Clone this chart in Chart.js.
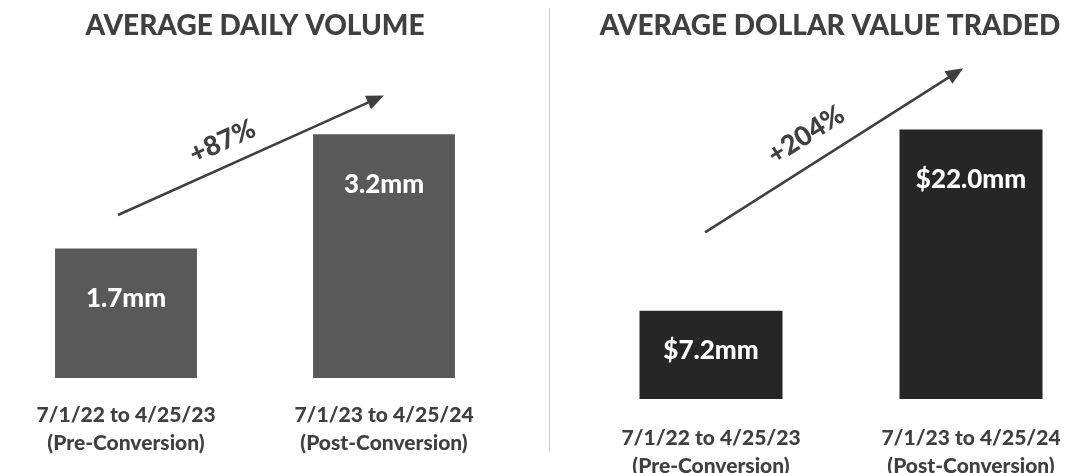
<!DOCTYPE html>
<html>
<head>
<meta charset="utf-8">
<script src="https://cdn.jsdelivr.net/npm/chart.js@4.4.1/dist/chart.umd.min.js"></script>
<style>
  html, body { margin: 0; padding: 0; background: #fff; overflow: hidden; }
  body { width: 1084px; height: 473px; position: relative; }
  .box { position: absolute; top: 0; }
  #leftBox { left: -3px; width: 516px; height: 473px; }
  #rightBox { left: 559px; width: 542px; height: 497px; }
  #divider { position: absolute; left: 549px; top: 8px; width: 1px; height: 444px; background: #cccccc; }
</style>
</head>
<body>
<div id="divider"></div>
<div class="box" id="leftBox"><canvas id="volChart"></canvas></div>
<div class="box" id="rightBox"><canvas id="dollarChart"></canvas></div>
<script>
// periods, same for both panels
const periods = [["7/1/22 to 4/25/23", "(Pre-Conversion)"], ["7/1/23 to 4/25/24", "(Post-Conversion)"]];

// left panel: average daily volume (mm shares)
const volumeValues = [1.7, 3.2];
const volumeLabels = ["1.7mm", "3.2mm"];
const volumeChange = "+87%";

// right panel: average dollar value traded ($mm)
const dollarValues = [7.2, 22.0];
const dollarLabels = ["$7.2mm", "$22.0mm"];
const dollarChange = "+204%";

const FONT = "Lato, 'Open Sans', sans-serif";
const TEXT = "#404040";

// writes the value inside each bar
const barText = {
	id: "barText",
	afterDatasetsDraw(chart, args, opts) {
		const ctx = chart.ctx;
		const meta = chart.getDatasetMeta(0);
		ctx.save();
		ctx.fillStyle = "#ffffff";
		ctx.font = "900 26px " + FONT;
		ctx.textAlign = "center";
		ctx.textBaseline = "middle";
		meta.data.forEach(function (bar, i) {
			const h = bar.base - bar.y;
			ctx.fillText(opts.labels[i], bar.x, bar.y + Math.min(50, h * 0.45));
		});
		ctx.restore();
	}
};

// growth arrow between the bars, ends given in data units
const growthArrow = {
	id: "growthArrow",
	afterDatasetsDraw(chart, args, opts) {
		const ctx = chart.ctx;
		const xs = chart.scales.x, ys = chart.scales.y;
		const x1 = xs.getPixelForValue(opts.from[0]), y1 = ys.getPixelForValue(opts.from[1]);
		const x2 = xs.getPixelForValue(opts.to[0]), y2 = ys.getPixelForValue(opts.to[1]);
		const ang = Math.atan2(y2 - y1, x2 - x1);
		const head = 19;
		ctx.save();
		ctx.strokeStyle = TEXT;
		ctx.fillStyle = TEXT;
		ctx.lineWidth = 2.5;
		ctx.beginPath();
		ctx.moveTo(x1, y1);
		ctx.lineTo(x2 - Math.cos(ang) * head * 0.8, y2 - Math.sin(ang) * head * 0.8);
		ctx.stroke();
		ctx.beginPath();
		ctx.moveTo(x2, y2);
		ctx.lineTo(x2 - head * Math.cos(ang - 0.4), y2 - head * Math.sin(ang - 0.4));
		ctx.lineTo(x2 - head * Math.cos(ang + 0.4), y2 - head * Math.sin(ang + 0.4));
		ctx.closePath();
		ctx.fill();
		// label above the line
		const tx = x1 + (x2 - x1) * opts.at + Math.sin(ang) * opts.gap;
		const ty = y1 + (y2 - y1) * opts.at - Math.cos(ang) * opts.gap;
		ctx.translate(tx, ty);
		ctx.rotate(ang);
		ctx.font = "900 27px " + FONT;
		ctx.textAlign = "center";
		ctx.textBaseline = "middle";
		ctx.fillText(opts.text, 0, 0);
		ctx.restore();
	}
};

function makeChart(id, title, values, labels, colour, yMax, tickPad, padBottom, yGap, arrow) {
	return new Chart(document.getElementById(id), {
		type: "bar",
		data: {
			labels: periods,
			datasets: [{
				data: values,
				backgroundColor: colour,
				borderWidth: 0,
				barPercentage: 0.55,
				categoryPercentage: 1
			}]
		},
		options: {
			responsive: true,
			maintainAspectRatio: false,
			animation: false,
			layout: { padding: { left: 0, right: 0, top: 0, bottom: padBottom } },
			scales: {
				x: {
					grid: { display: false },
					border: { display: false },
					ticks: {
						color: TEXT,
						padding: tickPad,
						font: { family: FONT, size: 21, weight: "900", lineHeight: 1.333 },
						maxRotation: 0,
						autoSkip: false
					}
				},
				y: {
					display: yGap > 0,
					min: 0,
					max: yMax,
					grid: { display: false },
					border: { display: false },
					ticks: { display: false },
					afterFit(scale) { scale.width = yGap; }
				}
			},
			plugins: {
				legend: { display: false },
				tooltip: { enabled: false },
				title: {
					display: true,
					text: title,
					color: TEXT,
					font: { family: FONT, size: 28, weight: "900", lineHeight: 1.2 },
					padding: { top: 9, bottom: 17 }
				},
				barText: { labels: labels },
				growthArrow: arrow
			}
		},
		plugins: [barText, growthArrow]
	});
}

makeChart("volChart", "AVERAGE DAILY VOLUME", volumeValues, volumeLabels, "#595959", 4.18, 15, 1, 0,
	{ from: [-0.031, 2.14], to: [1.0, 3.71], text: volumeChange, at: 0.43, gap: 24 });

makeChart("dollarChart", "AVERAGE DOLLAR VALUE TRADED", dollarValues, dollarLabels, "#262626", 27.7, 17, 0, 22,
	{ from: [-0.023, 13.6], to: [0.97, 27.0], text: dollarChange, at: 0.45, gap: 28 });
</script>
</body>
</html>
